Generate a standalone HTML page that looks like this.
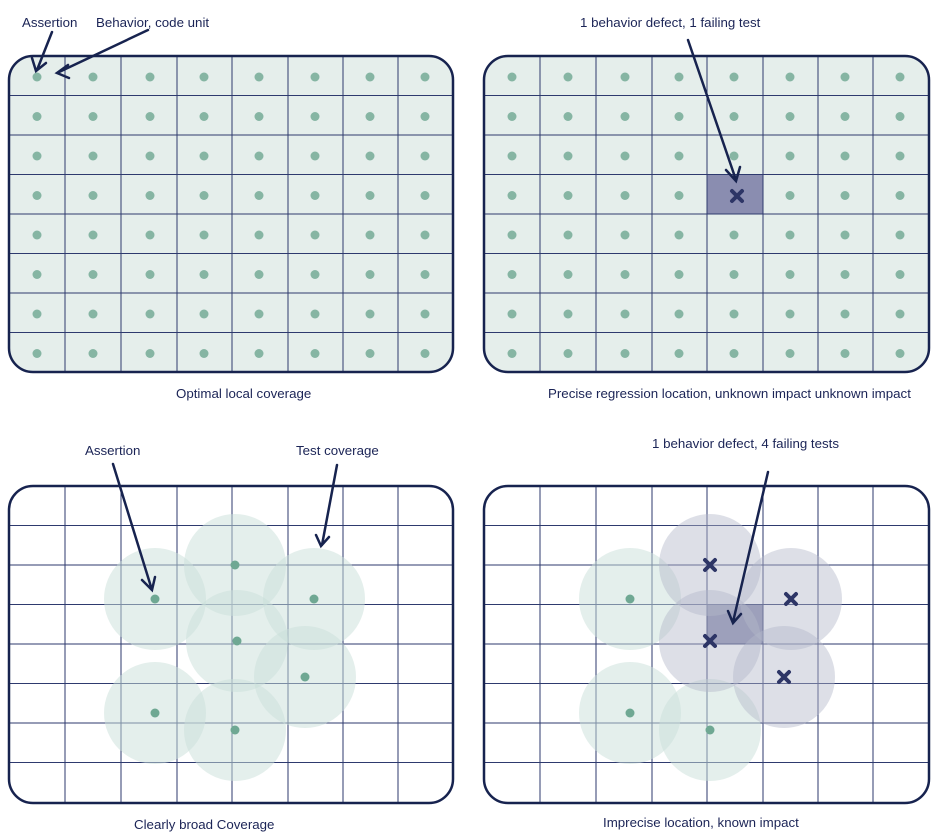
<!DOCTYPE html>
<html><head><meta charset="utf-8"><style>body{margin:0;background:#fff}svg{display:block}</style></head><body>
<svg width="937" height="835" viewBox="0 0 937 835" xmlns="http://www.w3.org/2000/svg" font-family="Liberation Sans, sans-serif" font-size="13.3" fill="#1b2456">
<defs>
<g id="grid" stroke="#2e3a6e" stroke-width="1">
<line x1="56" y1="0" x2="56" y2="317"/><line x1="112" y1="0" x2="112" y2="317"/><line x1="168" y1="0" x2="168" y2="317"/><line x1="223" y1="0" x2="223" y2="317"/><line x1="279" y1="0" x2="279" y2="317"/><line x1="334" y1="0" x2="334" y2="317"/><line x1="389" y1="0" x2="389" y2="317"/>
<line x1="0" y1="39.5" x2="445" y2="39.5"/><line x1="0" y1="79" x2="445" y2="79"/><line x1="0" y1="118.5" x2="445" y2="118.5"/><line x1="0" y1="158" x2="445" y2="158"/><line x1="0" y1="197.5" x2="445" y2="197.5"/><line x1="0" y1="237" x2="445" y2="237"/><line x1="0" y1="276.5" x2="445" y2="276.5"/>
</g>
<g id="dots" fill="#86b5a3">
<g id="drow"><circle cx="28" cy="21" r="4.5"/><circle cx="84" cy="21" r="4.5"/><circle cx="141" cy="21" r="4.5"/><circle cx="195" cy="21" r="4.5"/><circle cx="250" cy="21" r="4.5"/><circle cx="306" cy="21" r="4.5"/><circle cx="361" cy="21" r="4.5"/><circle cx="416" cy="21" r="4.5"/></g>
<use href="#drow" y="39.5"/><use href="#drow" y="79"/><use href="#drow" y="118.5"/><use href="#drow" y="158"/><use href="#drow" y="197.5"/><use href="#drow" y="237"/><use href="#drow" y="276.5"/>
</g>
<clipPath id="cp"><rect x="0" y="0" width="445" height="317" rx="24"/></clipPath>
</defs>
<g transform="translate(9,56)">
<rect width="444" height="316" rx="24" fill="#e5eeeb"/>
<g clip-path="url(#cp)"><use href="#grid"/></g>
<use href="#dots"/>
<rect width="444" height="316" rx="24" fill="none" stroke="#17234f" stroke-width="2.5"/>
</g>
<g transform="translate(484,56)">
<rect width="445" height="316" rx="24" fill="#e5eeeb"/>
<rect x="223" y="118.5" width="56" height="39.5" fill="#8a8db0"/>
<g clip-path="url(#cp)"><use href="#grid"/></g>
<use href="#dots"/>
<rect x="224" y="119.5" width="54" height="37.5" fill="#8a8db0"/>
<rect width="445" height="316" rx="24" fill="none" stroke="#17234f" stroke-width="2.5"/>
</g>
<g transform="translate(9,486)">
<rect width="444" height="317" rx="24" fill="#fff"/>
<g clip-path="url(#cp)"><use href="#grid"/></g>
<g fill="#c9e0da" fill-opacity="0.5">
<circle cx="146" cy="113" r="51"/><circle cx="226" cy="79" r="51"/><circle cx="305" cy="113" r="51"/><circle cx="228" cy="155" r="51"/><circle cx="296" cy="191" r="51"/><circle cx="146" cy="227" r="51"/><circle cx="226" cy="244" r="51"/>
</g>
<g fill="#6fa893"><circle cx="146" cy="113" r="4.5"/><circle cx="226" cy="79" r="4.5"/><circle cx="305" cy="113" r="4.5"/><circle cx="228" cy="155" r="4.5"/><circle cx="296" cy="191" r="4.5"/><circle cx="146" cy="227" r="4.5"/><circle cx="226" cy="244" r="4.5"/></g>
<rect width="444" height="317" rx="24" fill="none" stroke="#17234f" stroke-width="2.5"/>
</g>
<g transform="translate(484,486)">
<rect width="445" height="317" rx="24" fill="#fff"/>
<rect x="223" y="118.5" width="56" height="39.5" fill="#8a8db0"/>
<g clip-path="url(#cp)"><use href="#grid"/></g>
<g fill="#c9e0da" fill-opacity="0.5"><circle cx="146" cy="113" r="51"/><circle cx="146" cy="227" r="51"/><circle cx="226" cy="244" r="51"/></g>
<g fill="#b4b7c9" fill-opacity="0.45"><circle cx="226" cy="79" r="51"/><circle cx="307" cy="113" r="51"/><circle cx="226" cy="155" r="51"/><circle cx="300" cy="191" r="51"/></g>
<g fill="#6fa893"><circle cx="146" cy="113" r="4.5"/><circle cx="146" cy="227" r="4.5"/><circle cx="226" cy="244" r="4.5"/></g>
<g stroke="#2d3566" stroke-width="4" stroke-linecap="round">
<path d="M221 74l10 10M231 74l-10 10"/><path d="M302 108l10 10M312 108l-10 10"/><path d="M221 150l10 10M231 150l-10 10"/><path d="M295 186l10 10M305 186l-10 10"/>
</g>
<rect width="445" height="317" rx="24" fill="none" stroke="#17234f" stroke-width="2.5"/>
</g>
<path d="M732 191l10 10M742 191l-10 10" stroke="#2d3566" stroke-width="4" stroke-linecap="round"/>
<g stroke="#17234f" stroke-width="2.5" fill="none" stroke-linecap="round">
<path d="M52 32L37 70M32 58l4 13l10-8"/>
<path d="M148 30L57 73M68 65l-11 8l12 5"/>
<path d="M688 40L736 180M726 170l10 11l4-14"/>
<path d="M113 464L152 590M142 580l10 10l3-13"/>
<path d="M337 465L322 545M316 535l5 11l8-9"/>
<path d="M768 472L733 622M728 611l5 12l8-9"/>
</g>
<text x="22" y="27">Assertion</text>
<text x="96" y="27">Behavior, code unit</text>
<text x="580" y="27">1 behavior defect, 1 failing test</text>
<text x="176" y="398">Optimal local coverage</text>
<text x="548" y="398">Precise regression location, unknown impact unknown impact</text>
<text x="85" y="455">Assertion</text>
<text x="296" y="455">Test coverage</text>
<text x="652" y="448">1 behavior defect, 4 failing tests</text>
<text x="134" y="829">Clearly broad Coverage</text>
<text x="603" y="827">Imprecise location, known impact</text>
</svg>
</body></html>
